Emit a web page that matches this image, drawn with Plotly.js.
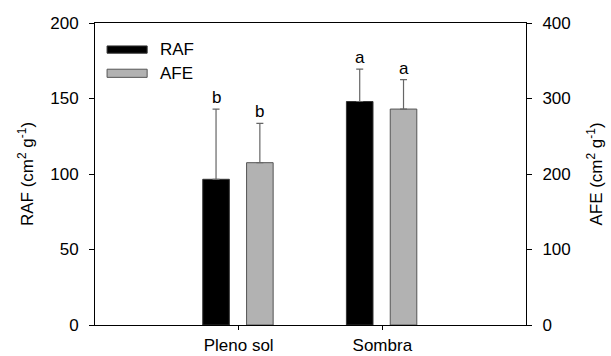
<!DOCTYPE html>
<html>
<head>
<meta charset="utf-8">
<script src="https://cdn.plot.ly/plotly-3.0.1.min.js"></script>
<style>html,body{margin:0;padding:0;background:#fff;}#chart{width:611px;height:356px;}</style>
</head>
<body>
<div id="chart"></div>
<script>
var categories = ["Pleno sol", "Sombra"];
var rafValues = [96.5, 148];
var rafErrors = [46.5, 21.5];
var afeValues = [215, 286];
var afeErrors = [52, 39];
var rafLetters = ["b", "a"];
var afeLetters = ["b", "a"];
var seriesNames = ["RAF", "AFE"];

var font = {family: "Liberation Sans, Arial, sans-serif", size: 17, color: "#000"};
var barW = 0.185;

var traces = [
  {type: "bar", name: seriesNames[0], x: categories, y: rafValues, yaxis: "y",
   width: barW, offset: -0.25, showlegend: false,
   marker: {color: "#000000", line: {color: "#333", width: 1}},
   error_y: {type: "data", symmetric: false, array: rafErrors, arrayminus: [0, 0], color: "#666", thickness: 1.2, width: 3.5}},
  {type: "bar", name: seriesNames[1], x: categories, y: afeValues, yaxis: "y2",
   width: barW, offset: 0.055, showlegend: false,
   marker: {color: "#b2b2b2", line: {color: "#555", width: 1}},
   error_y: {type: "data", symmetric: false, array: afeErrors, arrayminus: [0, 0], color: "#666", thickness: 1.2, width: 3.5}}
];

var annotations = [];
categories.forEach(function(c, i) {
  annotations.push({x: i - 0.25 + barW / 2, y: rafValues[i] + rafErrors[i], xref: "x", yref: "y",
    text: rafLetters[i], showarrow: false, yanchor: "bottom", yshift: 0, font: font});
  annotations.push({x: i + 0.055 + barW / 2, y: afeValues[i] + afeErrors[i], xref: "x", yref: "y2",
    text: afeLetters[i], showarrow: false, yanchor: "bottom", yshift: 0, font: font});
});
annotations.push({x: 0.146, y: 0.911, xref: "paper", yref: "paper", text: seriesNames[0], showarrow: false, xanchor: "left", yanchor: "middle", font: font});
annotations.push({x: 0.146, y: 0.834, xref: "paper", yref: "paper", text: seriesNames[1], showarrow: false, xanchor: "left", yanchor: "middle", font: font});

var shapes = [
  {type: "rect", xref: "paper", yref: "paper", x0: 0.028, x1: 0.121, y0: 0.90, y1: 0.924, fillcolor: "#000", line: {color: "#333", width: 1}},
  {type: "rect", xref: "paper", yref: "paper", x0: 0.028, x1: 0.121, y0: 0.820, y1: 0.847, fillcolor: "#b2b2b2", line: {color: "#555", width: 1}}
];

var layout = {
  width: 611, height: 356,
  margin: {l: 95, r: 85, t: 23, b: 31},
  paper_bgcolor: "#fff", plot_bgcolor: "#fff",
  font: font,
  barmode: "overlay",
  showlegend: false,
  xaxis: {type: "category", range: [-1, 2], showline: true, linecolor: "#000", linewidth: 1, mirror: true,
    ticks: "outside", ticklen: 4, tickcolor: "#000", showgrid: false, zeroline: false,
    ticklabelstandoff: 1, tickfont: font},
  yaxis: {range: [0, 200], dtick: 50, showline: true, linecolor: "#000", linewidth: 1,
    ticks: "outside", ticklen: 5, tickcolor: "#000", showgrid: false, zeroline: false, tickfont: font,
    ticklabelstandoff: 7,
    title: {text: "RAF (cm<sup>2</sup> g<sup>-1</sup>)", font: font, standoff: 12}},
  yaxis2: {range: [0, 400], dtick: 100, overlaying: "y", side: "right", showline: true, linecolor: "#000", linewidth: 1,
    ticks: "outside", ticklen: 5, tickcolor: "#000", showgrid: false, zeroline: false, tickfont: font,
    ticklabelstandoff: 7,
    title: {text: "AFE (cm<sup>2</sup> g<sup>-1</sup>)", font: font, standoff: 20}},
  annotations: annotations,
  shapes: shapes
};

Plotly.newPlot("chart", traces, layout, {displayModeBar: false, staticPlot: true});
</script>
</body>
</html>
